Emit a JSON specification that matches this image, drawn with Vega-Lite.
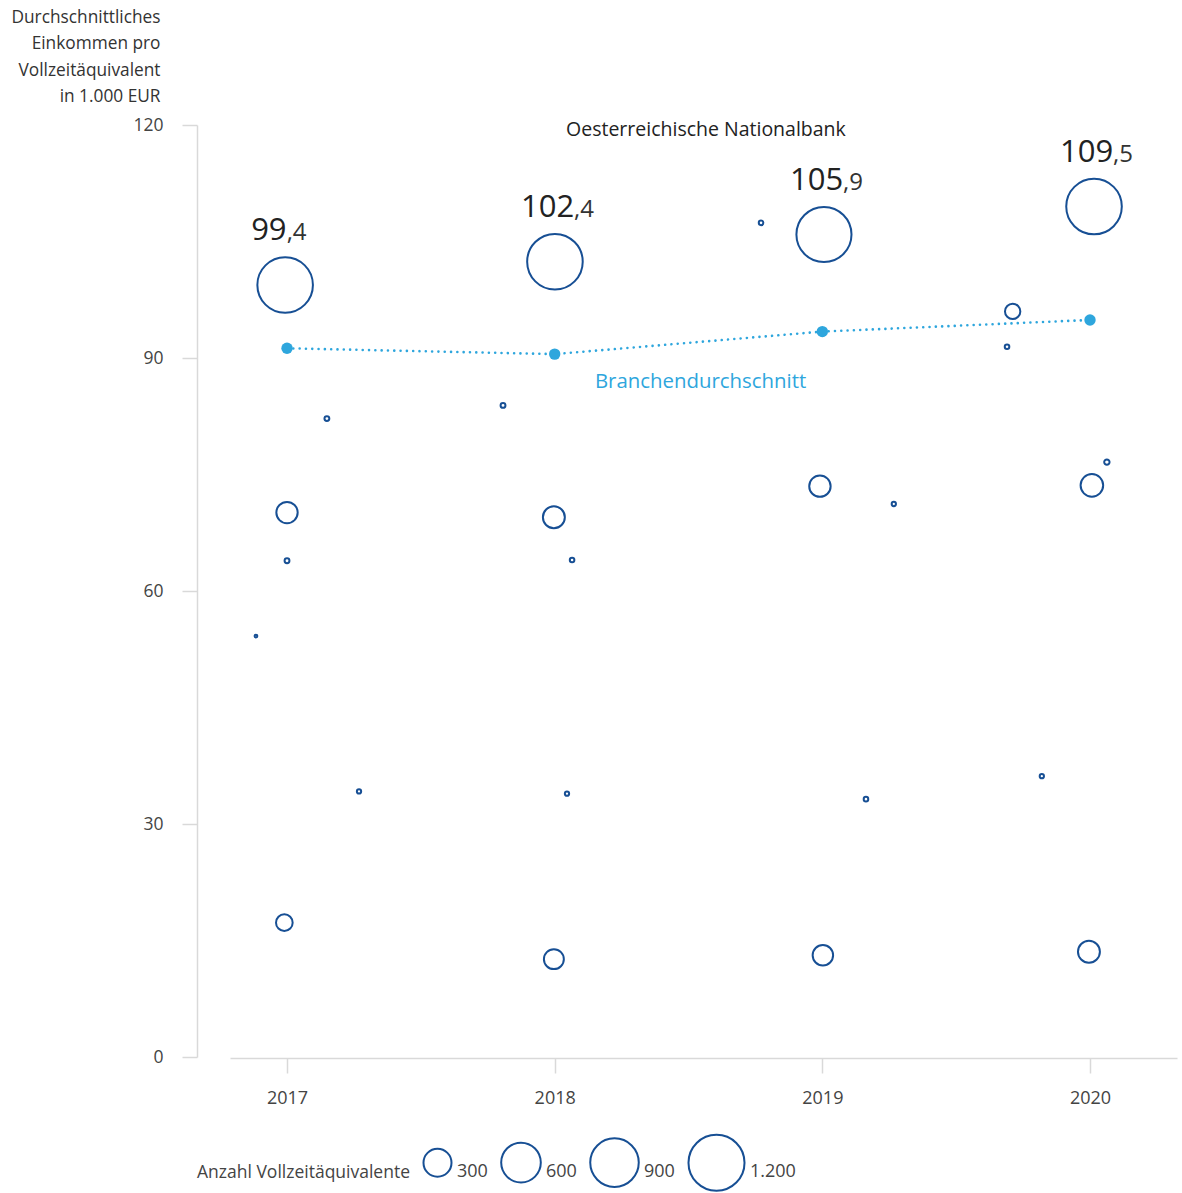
{
  "$schema": "https://vega.github.io/schema/vega-lite/v6.json",
  "autosize": {"type": "none"},
  "padding": {"left": 230, "top": 125, "right": 5, "bottom": 136},
  "width": 947,
  "height": 932,
  "background": "white",
  "config": {
    "view": {"stroke": null},
    "font": "Open Sans",
    "locale": {"number": {"decimal": ",", "thousands": ".", "grouping": [3], "currency": ["", " €"]}}
  },
  "datasets": {
    "branch": [
      {"x": 2017, "y": 91.25},
      {"x": 2018, "y": 90.5},
      {"x": 2019, "y": 93.4},
      {"x": 2020, "y": 94.9}
    ],
    "firms": [
      {"x": 2016.884, "y": 54.2, "n": 3},
      {"x": 2017.0, "y": 63.9, "n": 9},
      {"x": 2017.149, "y": 82.2, "n": 9},
      {"x": 2017.269, "y": 34.2, "n": 7},
      {"x": 2017.0, "y": 70.1, "n": 174},
      {"x": 2016.99, "y": 17.3, "n": 106},
      {"x": 2016.993, "y": 99.4, "n": 1180, "onb": true, "int": "99", "dec": ",4"},
      {"x": 2017.807, "y": 83.9, "n": 9},
      {"x": 2018.065, "y": 64.0, "n": 8},
      {"x": 2018.046, "y": 33.9, "n": 7},
      {"x": 2017.997, "y": 69.5, "n": 184},
      {"x": 2017.997, "y": 12.6, "n": 152},
      {"x": 2018.001, "y": 102.4, "n": 1180, "onb": true, "int": "102", "dec": ",4"},
      {"x": 2018.771, "y": 107.4, "n": 8},
      {"x": 2018.991, "y": 73.5, "n": 175},
      {"x": 2019.002, "y": 13.1, "n": 160},
      {"x": 2019.163, "y": 33.2, "n": 8},
      {"x": 2019.267, "y": 71.2, "n": 7},
      {"x": 2019.006, "y": 105.9, "n": 1160, "onb": true, "int": "105", "dec": ",9"},
      {"x": 2019.69, "y": 91.45, "n": 8},
      {"x": 2019.711, "y": 96.0, "n": 90},
      {"x": 2019.82, "y": 36.15, "n": 7},
      {"x": 2020.007, "y": 73.6, "n": 195},
      {"x": 2019.996, "y": 13.55, "n": 184},
      {"x": 2020.063, "y": 76.6, "n": 11},
      {"x": 2020.015, "y": 109.5, "n": 1180, "onb": true, "int": "109", "dec": ",5"}
    ]
  },
  "layer": [
    {
      "data": {"name": "branch"},
      "mark": {"type": "line", "color": "#2ea6dd", "strokeWidth": 2.6, "strokeDash": [0.01, 6.3], "strokeCap": "round"},
      "encoding": {
        "x": {
          "field": "x",
          "type": "quantitative",
          "scale": {"domain": [2016.787, 2020.325], "nice": false, "zero": false},
          "axis": {
            "values": [2017, 2018, 2019, 2020],
            "format": "d",
            "title": null,
            "grid": false,
            "tickSize": 15,
            "labelPadding": 16,
            "offset": 1,
            "domainColor": "#d9d9d9",
            "tickColor": "#d9d9d9",
            "domainWidth": 1.5,
            "tickWidth": 1.5,
            "labelFontSize": 18,
            "labelColor": "#444",
            "labelFont": "Open Sans"
          }
        },
        "y": {
          "field": "y",
          "type": "quantitative",
          "scale": {"domain": [0, 120], "nice": false, "zero": true},
          "axis": {
            "values": [0, 30, 60, 90, 120],
            "offset": 33,
            "grid": false,
            "tickSize": 15,
            "labelPadding": 19,
            "domainColor": "#d9d9d9",
            "tickColor": "#d9d9d9",
            "domainWidth": 1.5,
            "tickWidth": 1.5,
            "labelFontSize": 17.5,
            "labelColor": "#444",
            "labelFont": "Open Sans",
            "title": ["Durchschnittliches", "Einkommen pro", "Vollzeitäquivalent", "in 1.000 EUR"],
            "titleAngle": 0,
            "titleAlign": "right",
            "titleBaseline": "alphabetic",
            "titleX": -37,
            "titleY": -102.5,
            "titleFont": "Open Sans",
            "titleFontSize": 17.3,
            "titleFontWeight": "normal",
            "titleColor": "#333",
            "titleLineHeight": 26.3
          }
        }
      }
    },
    {
      "data": {"name": "branch"},
      "mark": {"type": "circle", "color": "#2ea6dd", "size": 130, "opacity": 1},
      "encoding": {
        "x": {"field": "x", "type": "quantitative"},
        "y": {"field": "y", "type": "quantitative"}
      }
    },
    {
      "data": {"name": "firms"},
      "mark": {"type": "point", "shape": "circle", "filled": false, "stroke": "#174f94", "strokeWidth": 2, "opacity": 1},
      "encoding": {
        "x": {"field": "x", "type": "quantitative"},
        "y": {"field": "y", "type": "quantitative"},
        "size": {
          "field": "n",
          "type": "quantitative",
          "scale": {"type": "linear", "domain": [0, 1200], "range": [0, 3140]},
          "legend": {
            "orient": "none",
            "legendX": -33,
            "legendY": 1008,
            "direction": "horizontal",
            "title": "Anzahl Vollzeitäquivalente",
            "titleOrient": "left",
            "titleAnchor": "middle",
            "titleBaseline": "top",
            "titlePadding": 12,
            "titleLimit": 500,
            "titleFont": "Open Sans",
            "titleFontSize": 17.5,
            "titleFontWeight": "normal",
            "titleColor": "#444",
            "values": [300, 600, 900, 1200],
            "format": ",d",
            "labelFont": "Open Sans",
            "labelFontSize": 18,
            "labelColor": "#444",
            "labelBaseline": "top",
            "labelOffset": 4,
            "columnPadding": 9,
            "symbolType": "circle",
            "symbolStrokeColor": "#174f94",
            "symbolFillColor": "transparent",
            "symbolStrokeWidth": 2
          }
        }
      }
    },
    {
      "data": {"name": "firms"},
      "transform": [{"filter": "datum.onb"}],
      "mark": {"type": "text", "align": "left", "baseline": "alphabetic", "dx": -34, "dy": -45, "fontSize": 31, "color": "#222", "font": "Open Sans"},
      "encoding": {
        "x": {"field": "x", "type": "quantitative"},
        "y": {"field": "y", "type": "quantitative"},
        "text": {"field": "int"}
      }
    },
    {
      "data": {"name": "firms"},
      "transform": [{"filter": "datum.onb && datum.y < 100"}],
      "mark": {"type": "text", "align": "left", "baseline": "alphabetic", "dx": 1.5, "dy": -45, "fontSize": 24, "color": "#333", "font": "Open Sans"},
      "encoding": {
        "x": {"field": "x", "type": "quantitative"},
        "y": {"field": "y", "type": "quantitative"},
        "text": {"field": "dec"}
      }
    },
    {
      "data": {"name": "firms"},
      "transform": [{"filter": "datum.onb && datum.y >= 100"}],
      "mark": {"type": "text", "align": "left", "baseline": "alphabetic", "dx": 19, "dy": -45, "fontSize": 24, "color": "#333", "font": "Open Sans"},
      "encoding": {
        "x": {"field": "x", "type": "quantitative"},
        "y": {"field": "y", "type": "quantitative"},
        "text": {"field": "dec"}
      }
    },
    {
      "data": {"values": [{}]},
      "mark": {"type": "text", "align": "center", "baseline": "alphabetic", "fontSize": 19.5, "color": "#222", "font": "Open Sans", "text": "Oesterreichische Nationalbank"},
      "encoding": {
        "x": {"datum": 2018.565},
        "y": {"datum": 118.6}
      }
    },
    {
      "data": {"values": [{}]},
      "mark": {"type": "text", "align": "center", "baseline": "alphabetic", "fontSize": 20.4, "color": "#2ea6dd", "font": "Open Sans", "text": "Branchendurchschnitt"},
      "encoding": {
        "x": {"datum": 2018.545},
        "y": {"datum": 86.1}
      }
    }
  ]
}
